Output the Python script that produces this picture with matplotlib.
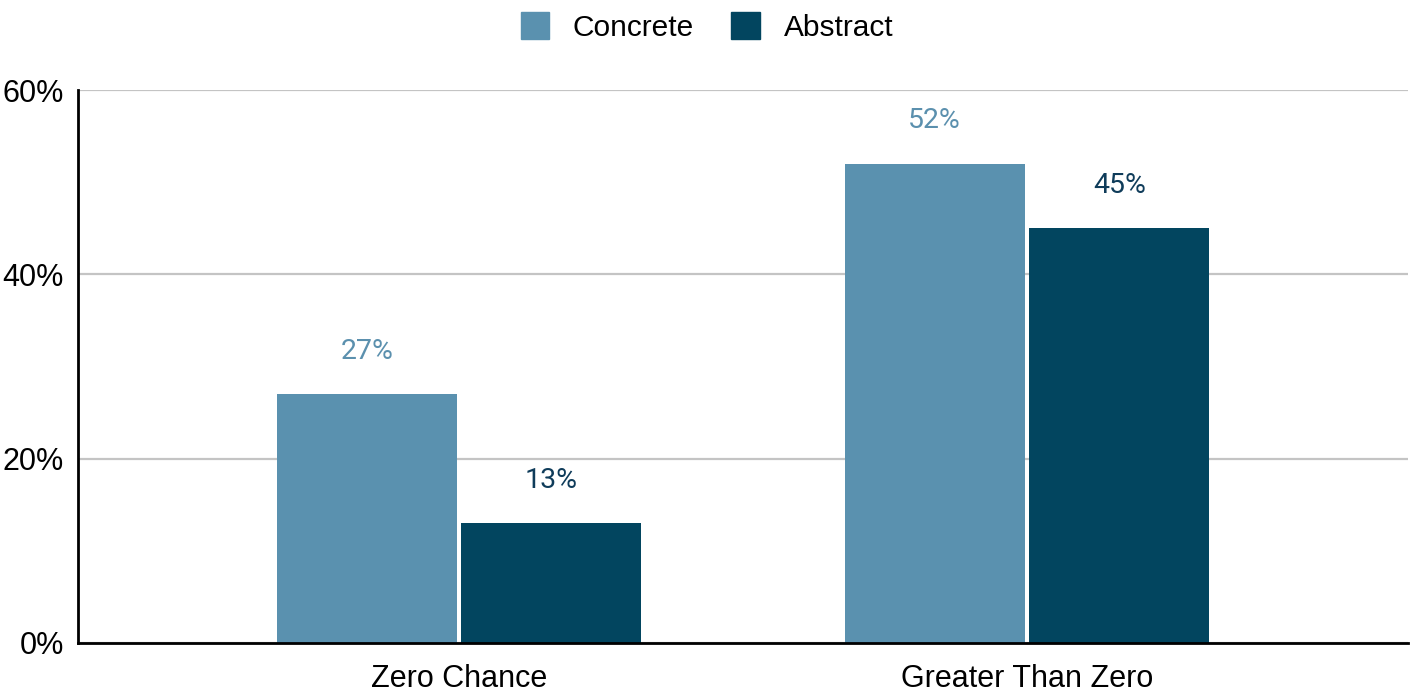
import matplotlib
matplotlib.use("Agg")
import matplotlib.pyplot as plt
import numpy as np
from matplotlib.patches import Patch

categories = ["Zero Chance", "Greater Than Zero"]
series_names = ["Concrete", "Abstract"]
concrete = [27, 52]
abstract = [13, 45]
yticks = [0, 20, 40, 60]
ytick_labels = ["0%", "20%", "40%", "60%"]

c_concrete = "#5a91af"
c_abstract = "#02455f"
lbl_concrete = "#5b90ae"
lbl_abstract = "#0f3c5a"

fig = plt.figure(figsize=(14.14, 6.91), dpi=100)
ax = fig.add_axes([78/1414, 48/691, 1330/1414, 553/691])

x = np.arange(len(categories))
w = 0.317
off = 0.1625
b1 = ax.bar(x - off, concrete, width=w, color=c_concrete, zorder=3)
b2 = ax.bar(x + off, abstract, width=w, color=c_abstract, zorder=3)

for bars, vals, col in [(b1, concrete, lbl_concrete), (b2, abstract, lbl_abstract)]:
    for r, v in zip(bars, vals):
        ax.annotate(f"{v}%", (r.get_x() + r.get_width()/2, v), xytext=(0, 43),
                    textcoords="offset pixels", ha="center", va="center",
                    fontsize=20.5, color=col, family="Roboto")

ax.set_xlim(-0.671, 1.671)
ax.set_ylim(0, 60)
ax.set_yticks(yticks)
ax.set_yticklabels(ytick_labels, family="Liberation Sans", fontsize=22)
ax.set_xticks(x)
ax.set_xticklabels(categories, family="Liberation Sans", fontsize=22)
ax.tick_params(length=0)
ax.tick_params(axis="y", pad=10)
ax.tick_params(axis="x", pad=15)
ax.yaxis.grid(True, color="#c4c4c4", linewidth=1.6, zorder=0)
for s in ["top", "right"]:
    ax.spines[s].set_visible(False)
for s in ["left", "bottom"]:
    ax.spines[s].set_linewidth(2)
    ax.spines[s].set_color("black")
    ax.spines[s].set_zorder(4)

handles = [Patch(color=c_concrete), Patch(color=c_abstract)]
fig.legend(handles, series_names, loc="center", bbox_to_anchor=(0.5, 1 - 27/691),
           ncol=2, frameon=False, prop={"family": "Liberation Sans", "size": 21.5},
           handlelength=0.95, handleheight=1.0, handletextpad=0.8, columnspacing=1.25)

fig.savefig("out.png", dpi=100)
